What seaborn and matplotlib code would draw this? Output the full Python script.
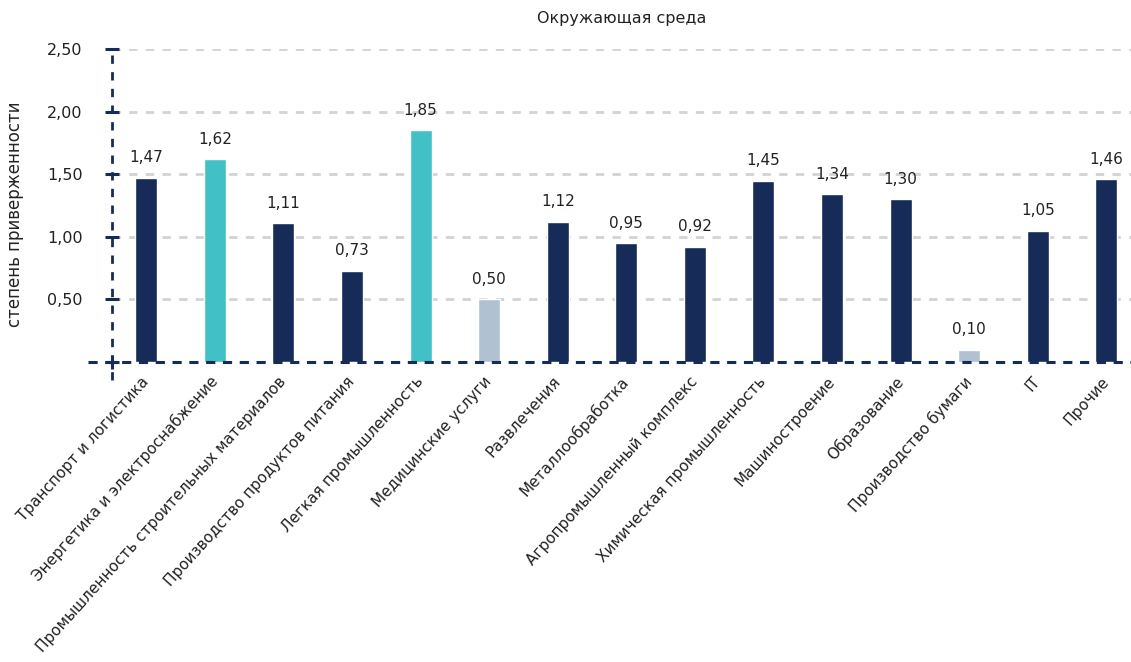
import matplotlib
matplotlib.use("Agg")
import matplotlib.pyplot as plt
import numpy as np
import pandas as pd
import seaborn as sns

# данные
categories = ["Транспорт и логистика", "Энергетика и электроснабжение",
              "Промышленность строительных материалов", "Производство продуктов питания",
              "Легкая промышленность", "Медицинские услуги", "Развлечения",
              "Металлообработка", "Агропромышленный комплекс", "Химическая промышленность",
              "Машиностроение", "Образование", "Производство бумаги", "IT", "Прочие"]
values = [1.47, 1.62, 1.11, 0.73, 1.85, 0.50, 1.12, 0.95, 0.92, 1.45, 1.34, 1.30, 0.10, 1.05, 1.46]
groups = ["base", "high", "base", "base", "high", "low", "base", "base", "base", "base",
          "base", "base", "low", "base", "base"]
yticks = [0.5, 1.0, 1.5, 2.0, 2.5]
title = "Окружающая среда"
ylabel = "степень приверженности"

navy = "#162B57"
teal = "#41C1C5"
light = "#B0C2D2"
group_colors = {"base": navy, "high": teal, "low": light}

sns.set_style("white")
plt.rcParams["font.family"] = ["DejaVu Sans"]

df = pd.DataFrame({"cat": categories, "val": values, "grp": groups})
palette = [group_colors[g] for g in groups]

fig = plt.figure(figsize=(11.31, 6.62), dpi=100)
ax = fig.add_axes([0.099, 0.453, 0.901, 0.473])

sns.barplot(data=df, x="cat", y="val", hue="cat", palette=palette, legend=False,
            width=0.32, saturation=1, ax=ax, zorder=3)

ax.set_ylim(0, 2.5)
ax.set_xlim(-0.5, 14.36)
for s in ax.spines.values():
    s.set_visible(False)

# сетка
for t in yticks:
    ax.axhline(t, color="#D3D3D3", lw=2, ls=(0, (3, 3)), zorder=1)

# ось Y и базовая линия
ax.plot([-0.5, -0.5], [-0.145, 2.5], color=navy, lw=2, ls=(0, (3, 3)), clip_on=False, zorder=4)
ax.plot([-0.85, 14.36], [0, 0], color=navy, lw=2.2, ls=(0, (3, 2.5)), clip_on=False, zorder=5)
# засечки
ax.plot([-0.5] * len(yticks), yticks, ls="none", marker="_", ms=10, mew=2.2,
        color=navy, clip_on=False, zorder=6)
ax.plot([-0.5], [0], ls="none", marker="+", ms=10, mew=2.2, color=navy, clip_on=False, zorder=6)

ax.set_yticks(yticks)
ax.set_yticklabels([f"{t:.2f}".replace(".", ",") for t in yticks], fontsize=11.5, color="#222222")
ax.tick_params(axis="y", length=0, pad=21)
ax.tick_params(axis="x", length=0, pad=12)
ax.set_xticks(range(len(categories)))
ax.set_xticklabels(categories, rotation=48, ha="right", va="center", rotation_mode="anchor",
                   fontsize=11, color="#222222")

for i, v in enumerate(values):
    ax.annotate(f"{v:.2f}".replace(".", ","), (i, v), xytext=(0, 9), textcoords="offset points",
                ha="center", va="bottom", fontsize=11, color="#222222")

ax.set_xlabel("")
ax.set_ylabel(ylabel, fontsize=12, color="#222222")
ax.yaxis.set_label_coords(-0.086, 0.473)
ax.set_title(title, fontsize=11.5, color="#222222", pad=19)

fig.savefig("out.png", dpi=100)
